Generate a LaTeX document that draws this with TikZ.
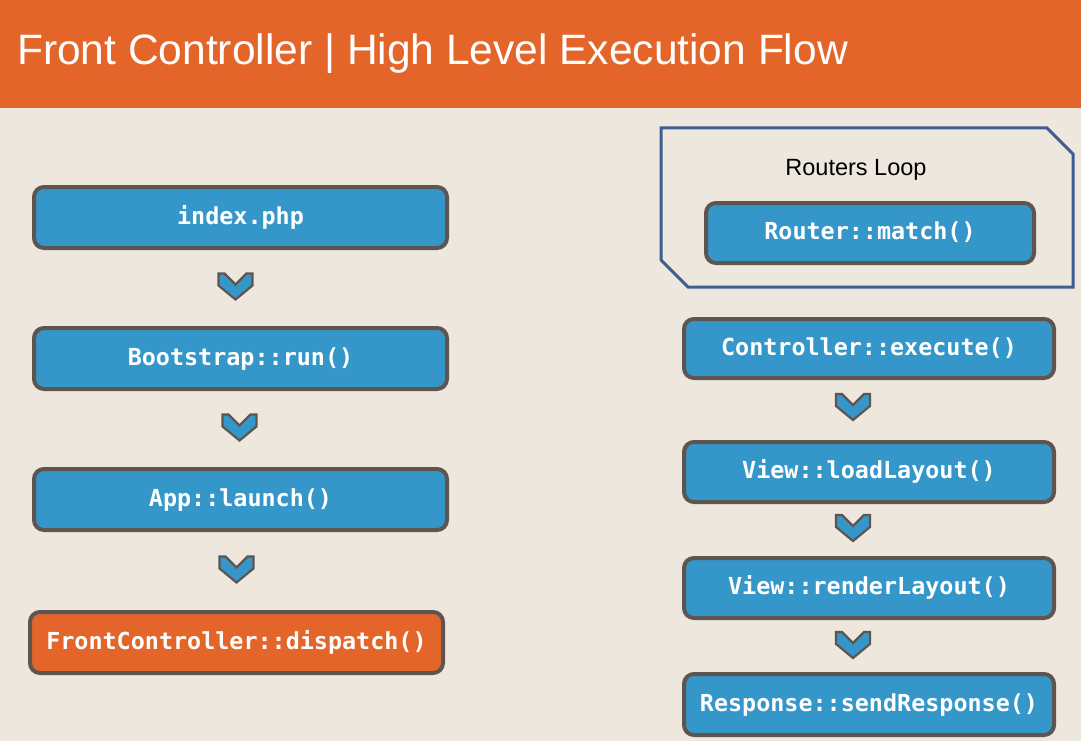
\documentclass[tikz,border=0pt]{standalone}
\usepackage{fontspec}
\setmainfont{Liberation Sans}
\newfontfamily\monob{DejaVu Sans Mono}
\usetikzlibrary{calc}
\definecolor{bgc}{HTML}{EEE7DE}
\definecolor{orangec}{HTML}{E4652A}
\definecolor{bluec}{HTML}{3597C9}
\definecolor{boxline}{HTML}{5E5550}
\definecolor{loopline}{HTML}{3C5E93}
\tikzset{
  stepbox/.style={draw=boxline, line width=4pt, fill=bluec, rounded corners=10pt,
    text=white, font=\monob\bfseries\fontsize{23.4}{26}\selectfont,
    inner sep=0pt, minimum height=61pt, text height=17pt, text depth=4pt},
  hotbox/.style={stepbox, fill=orangec},
  chev/.pic={\draw[line width=2.2pt, draw=boxline, fill=bluec, line join=miter]
    (-17,-13) -- (-11,-13) -- (0,-2) -- (11,-13) -- (17,-13) -- (17,-1) -- (0,13) -- (-17,-1) -- cycle;}
}
\begin{document}
\begin{tikzpicture}[x=1pt,y=-1pt]
\useasboundingbox (0,0) rectangle (1081,741);
\fill[bgc] (0,0) rectangle (1081,741);
\fill[orangec] (0,0) rectangle (1081,108);
\node[anchor=base west, text=white, inner sep=0pt, font=\fontsize{42.5}{50}\selectfont] (title) at (17,65) {Front Controller | High Level Execution Flow};

% left column
\node[stepbox, minimum width=413pt] (idx) at (240.5,217.5) {index.php};
\node[stepbox, minimum width=413pt] (boot) at (240.5,358.5) {Bootstrap::run()};
\node[stepbox, minimum width=413pt] (app) at (240.5,499.5) {App::launch()};
\node[hotbox, minimum width=413pt] (fc) at (236.5,642.5) {FrontController::dispatch()};

\pic at ($(idx.south)!0.5!(boot.north)+(-5,-1.5)$) {chev};
\pic at ($(boot.south)!0.5!(app.north)+(-1,-1.5)$) {chev};
\pic at ($(app.south)!0.5!(fc.north)+(-2,-1.5)$) {chev};

% right column
\draw[draw=loopline, line width=3pt, line join=miter] (661,128) -- (1047,128) -- (1073,154) -- (1073,287) -- (688,287) -- (661,260) -- cycle;
\node[anchor=base, inner sep=0pt, font=\fontsize{23.5}{28}\selectfont] (looplbl) at (856,175) {Routers Loop};
\node[stepbox, minimum width=328pt, minimum height=60pt] (match) at (870,233) {Router::match()};

\node[stepbox, minimum width=370pt, minimum height=59pt] (ctrl) at (869,348.5) {Controller::execute()};
\node[stepbox, minimum width=370pt, minimum height=60pt] (load) at (869,472) {View::loadLayout()};
\node[stepbox, minimum width=370pt, minimum height=60pt] (render) at (869,588) {View::renderLayout()};
\node[stepbox, minimum width=370pt, minimum height=61pt] (resp) at (869,704.5) {Response::sendResponse()};

\pic at ($(ctrl.south)!0.5!(load.north)+(-16,-3)$) {chev};
\pic at ($(load.south)!0.5!(render.north)+(-16,-2)$) {chev};
\pic at ($(render.south)!0.5!(resp.north)+(-16,-1)$) {chev};
\end{tikzpicture}
\end{document}
